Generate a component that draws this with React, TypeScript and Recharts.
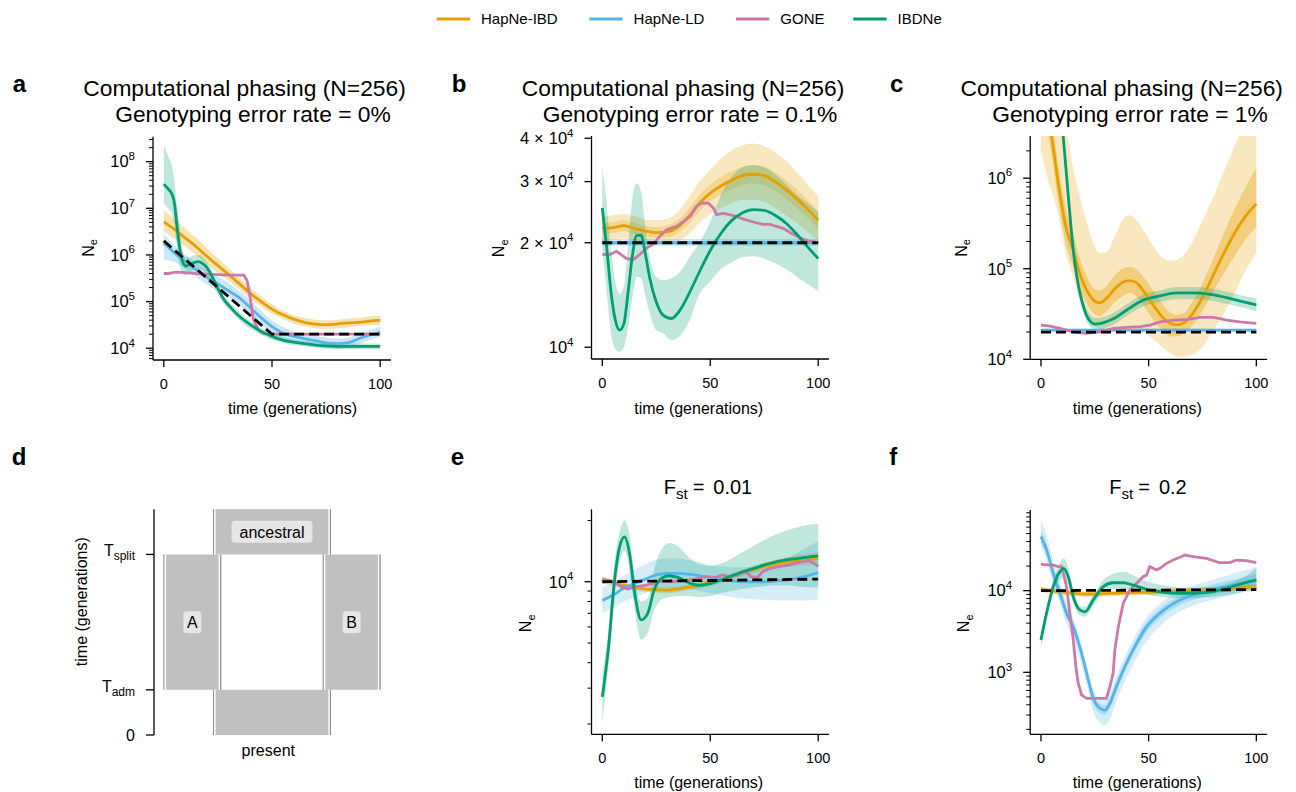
import React from 'react';
import { ComposedChart, Line, Area, XAxis, YAxis, ReferenceArea } from 'recharts';

const FONT = '"Liberation Sans", Arial, Helvetica, sans-serif';
const IBD = '#E69F00';
const LD = '#56B4E9';
const GONE = '#CC79A7';
const IBDNE = '#009E73';
const TRUE_C = '#000000';

const legendNames = ['HapNe-IBD', 'HapNe-LD', 'GONE', 'IBDNe'];
const legendColors = [IBD, LD, GONE, IBDNE];
const xTicks = [0, 50, 100];

// ---------------- panel a ----------------
const aT = [0, 5, 10, 15, 20, 25, 30, 35, 40, 45, 50, 55, 60, 65, 70, 75, 80, 85, 90, 95, 100];
const aIbd = [5.1e6, 3.5e6, 2.3e6, 1.5e6, 9.3e5, 5.9e5, 3.8e5, 2.4e5, 1.5e5, 1.0e5, 6.9e4, 5.2e4, 4.2e4, 3.6e4, 3.3e4, 3.2e4, 3.3e4, 3.5e4, 3.6e4, 3.8e4, 4.0e4];
const aIbdHi = [9.1e6, 5.9e6, 3.7e6, 2.3e6, 1.4e6, 8.5e5, 5.2e5, 3.2e5, 2.0e5, 1.3e5, 8.7e4, 6.5e4, 5.1e4, 4.5e4, 4.1e4, 4.0e4, 4.1e4, 4.3e4, 4.5e4, 4.8e4, 5.0e4];
const aIbdLo = [3.2e6, 2.2e6, 1.5e6, 9.8e5, 6.3e5, 4.1e5, 2.8e5, 1.8e5, 1.15e5, 7.8e4, 5.5e4, 4.3e4, 3.4e4, 3.0e4, 2.7e4, 2.6e4, 2.7e4, 2.8e4, 3.0e4, 3.1e4, 3.2e4];
const aLd = [1.8e6, 1.1e6, 7.1e5, 4.8e5, 3.3e5, 2.4e5, 1.7e5, 1.2e5, 7.4e4, 4.5e4, 2.9e4, 2.1e4, 1.8e4, 1.6e4, 1.45e4, 1.3e4, 1.26e4, 1.3e4, 1.6e4, 1.9e4, 2.2e4];
const aLdHi = [2.8e6, 1.6e6, 1.0e6, 6.8e5, 4.7e5, 3.4e5, 2.5e5, 1.66e5, 1.05e5, 6.3e4, 4.0e4, 2.9e4, 2.3e4, 2.0e4, 1.86e4, 1.7e4, 1.62e4, 1.7e4, 2.0e4, 2.45e4, 2.9e4];
const aLdLo = [7.9e5, 7.1e5, 5.0e5, 3.4e5, 2.3e5, 1.7e5, 1.23e5, 8.3e4, 5.2e4, 3.2e4, 2.1e4, 1.6e4, 1.35e4, 1.23e4, 1.12e4, 1.02e4, 9.8e3, 1.02e4, 1.23e4, 1.48e4, 1.74e4];
const aGoneT = [0, 2, 4, 6, 10, 15, 20, 25, 30, 35, 37, 38.5, 39.6, 41.4, 43.8, 46, 50, 60, 70, 80, 90, 100];
const aGone = [4.0e5, 4.0e5, 4.2e5, 4.3e5, 4.2e5, 4.0e5, 3.9e5, 3.8e5, 3.7e5, 3.7e5, 3.7e5, 2.8e5, 1.5e5, 4.1e4, 2.45e4, 2.05e4, 2.0e4, 2.0e4, 2.0e4, 2.0e4, 2.0e4, 2.0e4];
const aIbdneT = [0, 2, 4, 5, 6, 7, 8, 10, 12, 14, 16, 18, 20, 22, 25, 28, 30, 35, 40, 45, 50, 55, 60, 65, 70, 75, 80, 90, 100];
const aIbdne = [3.3e7, 2.6e7, 1.9e7, 1.2e7, 4.5e6, 1.8e6, 9.5e5, 5.8e5, 6.2e5, 6.9e5, 7.2e5, 6.5e5, 5.3e5, 3.7e5, 1.9e5, 1.07e5, 8.3e4, 4.8e4, 3.2e4, 2.3e4, 1.8e4, 1.5e4, 1.35e4, 1.26e4, 1.17e4, 1.12e4, 1.1e4, 1.1e4, 1.1e4];
const aIbdneHi = [2.3e8, 1.3e8, 7.1e7, 3.5e7, 1.3e7, 5.0e6, 2.0e6, 9.0e5, 9.0e5, 1.0e6, 1.0e6, 9.0e5, 7.0e5, 4.6e5, 2.3e5, 1.3e5, 1.0e5, 5.9e4, 3.8e4, 2.7e4, 2.1e4, 1.74e4, 1.55e4, 1.45e4, 1.35e4, 1.3e4, 1.26e4, 1.26e4, 1.26e4];
const aIbdneLo = [1.26e7, 1.0e7, 7.1e6, 4.0e6, 1.6e6, 7.0e5, 4.5e5, 3.6e5, 4.2e5, 4.8e5, 5.0e5, 4.6e5, 3.9e5, 2.8e5, 1.4e5, 8.7e4, 6.8e4, 4.0e4, 2.6e4, 1.95e4, 1.55e4, 1.32e4, 1.17e4, 1.1e4, 1.02e4, 9.8e3, 9.5e3, 9.5e3, 9.5e3];
const aTrueT = [0, 50, 100];
const aTrue = [2e6, 2e4, 2e4];

// ---------------- panel b ----------------
const bT = [0, 5, 10, 15, 20, 25, 30, 35, 40, 45, 50, 55, 60, 65, 70, 75, 80, 85, 90, 95, 100];
const bIbd = [2.2e4, 2.21e4, 2.24e4, 2.2e4, 2.16e4, 2.14e4, 2.15e4, 2.22e4, 2.38e4, 2.6e4, 2.78e4, 2.92e4, 3.03e4, 3.12e4, 3.15e4, 3.12e4, 3.0e4, 2.85e4, 2.68e4, 2.5e4, 2.32e4];
const bIbdHi = [2.38e4, 2.4e4, 2.42e4, 2.38e4, 2.33e4, 2.32e4, 2.35e4, 2.45e4, 2.7e4, 3.0e4, 3.25e4, 3.5e4, 3.7e4, 3.82e4, 3.86e4, 3.8e4, 3.65e4, 3.45e4, 3.2e4, 2.95e4, 2.72e4];
const bIbdLo = [2.04e4, 2.04e4, 2.06e4, 2.03e4, 2.0e4, 1.98e4, 1.98e4, 2.02e4, 2.12e4, 2.28e4, 2.42e4, 2.52e4, 2.6e4, 2.66e4, 2.66e4, 2.62e4, 2.52e4, 2.4e4, 2.28e4, 2.15e4, 2.02e4];
const bIbdHi2 = [2.28e4, 2.29e4, 2.32e4, 2.28e4, 2.24e4, 2.22e4, 2.24e4, 2.32e4, 2.5e4, 2.74e4, 2.94e4, 3.1e4, 3.22e4, 3.31e4, 3.34e4, 3.31e4, 3.19e4, 3.03e4, 2.85e4, 2.66e4, 2.46e4];
const bIbdLo2 = [2.12e4, 2.13e4, 2.16e4, 2.12e4, 2.08e4, 2.06e4, 2.07e4, 2.13e4, 2.27e4, 2.47e4, 2.63e4, 2.75e4, 2.85e4, 2.93e4, 2.96e4, 2.93e4, 2.82e4, 2.68e4, 2.52e4, 2.36e4, 2.19e4];
const bLdT = [0, 100];
const bLd = [2.0e4, 2.0e4];
const bLdHi = [2.05e4, 2.05e4];
const bLdLo = [1.96e4, 1.96e4];
const bGoneT = [0, 3.5, 6.6, 11.3, 14.4, 17.4, 20.5, 23.6, 26.7, 29.8, 34.4, 37.5, 40.6, 43.7, 46, 49.1, 51.4, 52.9, 56, 59, 62.2, 65.3, 68.4, 71.5, 74.5, 77.6, 80.7, 83.8, 86.9, 90, 93, 96.1, 100];
const bGone = [1.85e4, 1.85e4, 1.89e4, 1.8e4, 1.79e4, 1.85e4, 1.93e4, 1.98e4, 2.09e4, 2.18e4, 2.23e4, 2.3e4, 2.38e4, 2.55e4, 2.6e4, 2.6e4, 2.52e4, 2.41e4, 2.43e4, 2.41e4, 2.38e4, 2.34e4, 2.31e4, 2.28e4, 2.26e4, 2.26e4, 2.23e4, 2.2e4, 2.14e4, 2.09e4, 2.05e4, 2.02e4, 2.0e4];
const bIbdneT = [0, 2, 4, 6, 8, 10, 12, 14, 16, 18, 20, 22, 25, 28, 32, 36, 40, 45, 50, 55, 60, 65, 70, 75, 80, 85, 90, 95, 100];
const bIbdne = [2.52e4, 1.95e4, 1.45e4, 1.2e4, 1.12e4, 1.17e4, 1.45e4, 1.85e4, 2.1e4, 2.1e4, 1.85e4, 1.58e4, 1.35e4, 1.24e4, 1.21e4, 1.28e4, 1.42e4, 1.65e4, 1.9e4, 2.13e4, 2.32e4, 2.44e4, 2.49e4, 2.48e4, 2.4e4, 2.28e4, 2.12e4, 1.95e4, 1.8e4];
const bIbdneHi = [3.3e4, 2.6e4, 1.9e4, 1.55e4, 1.42e4, 1.5e4, 2.0e4, 2.7e4, 2.97e4, 2.8e4, 2.2e4, 1.8e4, 1.6e4, 1.56e4, 1.58e4, 1.65e4, 1.8e4, 2.0e4, 2.3e4, 2.75e4, 3.1e4, 3.3e4, 3.35e4, 3.3e4, 3.15e4, 2.95e4, 2.75e4, 2.6e4, 2.45e4];
const bIbdneLo = [1.95e4, 1.45e4, 1.1e4, 9.9e3, 9.7e3, 1.0e4, 1.15e4, 1.4e4, 1.6e4, 1.58e4, 1.4e4, 1.25e4, 1.12e4, 1.1e4, 1.05e4, 1.08e4, 1.18e4, 1.42e4, 1.55e4, 1.68e4, 1.76e4, 1.82e4, 1.83e4, 1.8e4, 1.75e4, 1.68e4, 1.6e4, 1.52e4, 1.45e4];
const bTrueT = [0, 100];
const bTrue = [2e4, 2e4];

// ---------------- panel c ----------------
const cIbdT = [0, 3, 5, 8, 11.5, 15, 18, 21, 24, 27, 30, 34, 38, 41, 44, 48, 52, 56, 60, 63, 66, 70, 75, 80, 85, 90, 95, 100];
const cIbd = [1.0e7, 5.0e6, 2.8e6, 8.9e5, 2.95e5, 1.6e5, 8.9e4, 5.9e4, 4.6e4, 4.2e4, 4.6e4, 5.9e4, 7.1e4, 7.4e4, 7.1e4, 5.5e4, 4.0e4, 3.0e4, 2.5e4, 2.4e4, 2.5e4, 3.1e4, 4.8e4, 8.5e4, 1.5e5, 2.5e5, 3.8e5, 5.2e5];
const cIbdHi2 = [1.6e7, 7.9e6, 4.5e6, 1.4e6, 4.7e5, 2.4e5, 1.3e5, 8.5e4, 6.3e4, 5.8e4, 6.3e4, 8.3e4, 1.0e5, 1.05e5, 1.0e5, 7.9e4, 5.8e4, 4.2e4, 3.3e4, 3.1e4, 3.2e4, 4.2e4, 6.9e4, 1.3e5, 2.5e5, 4.6e5, 7.9e5, 1.3e6];
const cIbdLo2 = [6.3e6, 3.2e6, 1.8e6, 5.6e5, 1.9e5, 1.05e5, 6.0e4, 4.2e4, 3.3e4, 3.0e4, 3.3e4, 4.2e4, 5.0e4, 5.4e4, 5.0e4, 3.8e4, 2.75e4, 2.1e4, 1.8e4, 1.78e4, 1.9e4, 2.3e4, 3.4e4, 5.6e4, 8.9e4, 1.4e5, 2.1e5, 2.9e5];
const cIbdHi = [1e8, 5e7, 2.5e7, 1e7, 4e6, 1.26e6, 6.3e5, 3.4e5, 2.0e5, 1.5e5, 1.5e5, 2.2e5, 3.5e5, 3.9e5, 3.5e5, 2.6e5, 1.8e5, 1.35e5, 1.23e5, 1.26e5, 1.4e5, 1.9e5, 3.4e5, 6.2e5, 1.2e6, 2.3e6, 4.5e6, 7.9e6];
const cIbdLo = [2.0e6, 1.0e6, 7.1e5, 4.0e5, 1.5e5, 8.0e4, 4.5e4, 3.0e4, 2.4e4, 2.2e4, 2.1e4, 2.1e4, 2.1e4, 2.1e4, 2.0e4, 1.95e4, 1.66e4, 1.38e4, 1.17e4, 1.07e4, 1.07e4, 1.12e4, 1.38e4, 2.1e4, 3.2e4, 5.4e4, 9.5e4, 1.5e5];
const cLdT = [0, 100];
const cLd = [2.1e4, 2.1e4];
const cLdHi = [2.18e4, 2.18e4];
const cLdLo = [2.02e4, 2.02e4];
const cGoneT = [0, 4.2, 8.8, 15, 21.2, 27.4, 33.6, 39.8, 46, 50.6, 55.3, 61.5, 67.7, 73.8, 80, 83.1, 86.2, 92.4, 100];
const cGone = [2.38e4, 2.32e4, 2.19e4, 2.01e4, 1.93e4, 2.01e4, 2.19e4, 2.25e4, 2.29e4, 2.38e4, 2.59e4, 2.7e4, 2.75e4, 2.9e4, 2.9e4, 2.82e4, 2.7e4, 2.59e4, 2.49e4];
const cIbdneT = [0, 5, 8, 10.3, 12.5, 14, 15.5, 17.5, 19.5, 22, 25, 28, 33.6, 39.8, 47.5, 55.3, 63, 70.7, 78.5, 86.2, 94, 100];
const cIbdne = [2e8, 4e7, 1e7, 2.95e6, 7.1e5, 2.8e5, 1.26e5, 6.3e4, 4.0e4, 2.8e4, 2.45e4, 2.5e4, 2.8e4, 3.5e4, 4.5e4, 5.0e4, 5.4e4, 5.4e4, 5.2e4, 4.8e4, 4.3e4, 4.0e4];
const cIbdneHi = [2.3e8, 4.7e7, 1.17e7, 3.45e6, 8.3e5, 3.3e5, 1.47e5, 7.4e4, 4.7e4, 3.3e4, 2.85e4, 2.9e4, 3.25e4, 4.05e4, 5.2e4, 5.8e4, 6.3e4, 6.3e4, 6.1e4, 5.6e4, 5.0e4, 4.7e4];
const cIbdneLo = [1.7e8, 3.4e7, 8.5e6, 2.5e6, 6.1e5, 2.4e5, 1.08e5, 5.4e4, 3.4e4, 2.4e4, 2.1e4, 2.15e4, 2.4e4, 3.0e4, 3.85e4, 4.3e4, 4.6e4, 4.6e4, 4.45e4, 4.1e4, 3.7e4, 3.4e4];
const cTrueT = [0, 100];
const cTrue = [2e4, 2e4];

// ---------------- panel d (model diagram, time units: T_adm = 1, T_split = 4) ----------------
const dYTicks = [0, 1, 4];
const dYNames = ['0', 'adm', 'split'];
const dDemes = [
  { name: 'ancestral', x1: 25, x2: 75, y1: 4, y2: 5 },
  { name: 'A', x1: 4, x2: 28.5, y1: 1, y2: 4 },
  { name: 'B', x1: 71.5, x2: 96, y1: 1, y2: 4 },
  { name: '', x1: 25, x2: 75, y1: 0, y2: 1 },
];

// ---------------- panel e ----------------
const eIbdT = [0, 10, 20, 30, 40, 50, 60, 70, 80, 90, 100];
const eIbd = [1.02e4, 9.6e3, 9.2e3, 9.1e3, 9.4e3, 9.9e3, 1.06e4, 1.15e4, 1.22e4, 1.27e4, 1.3e4];
const eIbdHi = [1.06e4, 9.9e3, 9.5e3, 9.4e3, 9.7e3, 1.03e4, 1.1e4, 1.2e4, 1.28e4, 1.35e4, 1.4e4];
const eIbdLo = [9.8e3, 9.3e3, 8.9e3, 8.8e3, 9.1e3, 9.5e3, 1.02e4, 1.1e4, 1.16e4, 1.2e4, 1.22e4];
const eLdT = [0, 5, 10, 15, 20, 25, 30, 35, 40, 45, 50, 55, 60, 65, 70, 75, 80, 85, 90, 95, 100];
const eLd = [8.1e3, 8.6e3, 9.3e3, 9.8e3, 1.03e4, 1.08e4, 1.1e4, 1.1e4, 1.09e4, 1.07e4, 1.05e4, 1.03e4, 1.01e4, 1.0e4, 1.0e4, 1.0e4, 1.01e4, 1.02e4, 1.04e4, 1.07e4, 1.11e4];
const eLdHi = [9.4e3, 9.9e3, 1.07e4, 1.15e4, 1.22e4, 1.28e4, 1.3e4, 1.3e4, 1.28e4, 1.25e4, 1.2e4, 1.19e4, 1.18e4, 1.18e4, 1.19e4, 1.2e4, 1.24e4, 1.3e4, 1.38e4, 1.48e4, 1.58e4];
const eLdLo = [7.0e3, 7.5e3, 8.0e3, 8.4e3, 8.8e3, 9.2e3, 9.3e3, 9.3e3, 9.2e3, 9.0e3, 8.8e3, 8.6e3, 8.4e3, 8.3e3, 8.2e3, 8.15e3, 8.1e3, 8.1e3, 8.1e3, 8.1e3, 8.2e3];
const eGoneT = [0, 5.6, 8.7, 11.9, 15, 19.7, 24.3, 27.5, 32, 36.8, 43, 47.7, 52.4, 55.5, 58.7, 63, 66.5, 68.8, 71.9, 74.3, 77.4, 82, 86.7, 91.4, 96, 100];
const eGone = [1.03e4, 1.0e4, 9.45e3, 9.2e3, 9.45e3, 9.6e3, 9.85e3, 1.01e4, 1.0e4, 1.01e4, 1.03e4, 1.06e4, 1.05e4, 1.08e4, 1.06e4, 1.08e4, 1.12e4, 1.06e4, 1.05e4, 1.12e4, 1.16e4, 1.19e4, 1.21e4, 1.25e4, 1.27e4, 1.19e4];
const eIbdneT = [0, 3, 5.5, 8, 10.3, 12.6, 15, 18, 21, 24, 27.5, 31, 35, 40, 45, 50, 55, 60, 65, 70, 75, 80, 85, 90, 95, 100];
const eIbdne = [2.72e3, 4.9e3, 9.8e3, 1.48e4, 1.66e4, 1.38e4, 8.8e3, 6.5e3, 6.98e3, 9.1e3, 1.04e4, 1.07e4, 1.05e4, 9.9e3, 9.6e3, 9.8e3, 1.02e4, 1.07e4, 1.12e4, 1.16e4, 1.21e4, 1.25e4, 1.28e4, 1.3e4, 1.32e4, 1.34e4];
const eIbdneHi = [3.5e3, 6.0e3, 1.2e4, 1.75e4, 2.0e4, 1.7e4, 1.05e4, 8.0e3, 8.3e3, 1.15e4, 1.45e4, 1.55e4, 1.5e4, 1.32e4, 1.22e4, 1.2e4, 1.23e4, 1.3e4, 1.4e4, 1.5e4, 1.6e4, 1.7e4, 1.78e4, 1.85e4, 1.9e4, 1.92e4];
const eIbdneLo = [2.0e3, 4.0e3, 8.0e3, 1.25e4, 1.42e4, 1.15e4, 7.3e3, 5.2e3, 5.6e3, 7.2e3, 8.2e3, 8.4e3, 8.5e3, 8.5e3, 8.4e3, 8.5e3, 8.8e3, 9.0e3, 9.2e3, 9.4e3, 9.5e3, 9.6e3, 9.6e3, 9.5e3, 9.4e3, 9.4e3];
const eTrueT = [0, 100];
const eTrue = [1.0e4, 1.03e4];

// ---------------- panel f ----------------
const fIbdT = [0, 10, 20, 30, 40, 50, 60, 70, 80, 90, 100];
const fIbd = [1.04e4, 9.6e3, 9.1e3, 9.2e3, 9.4e3, 9.6e3, 9.8e3, 1.0e4, 1.03e4, 1.07e4, 1.12e4];
const fIbdHi = [1.12e4, 1.04e4, 9.8e3, 9.9e3, 1.01e4, 1.04e4, 1.06e4, 1.08e4, 1.11e4, 1.16e4, 1.21e4];
const fIbdLo = [9.6e3, 8.9e3, 8.4e3, 8.5e3, 8.7e3, 8.9e3, 9.1e3, 9.3e3, 9.5e3, 9.9e3, 1.04e4];
const fLdT = [0, 2.6, 5.7, 8.8, 11.9, 15, 18, 21.2, 24.3, 27.4, 29.7, 32, 35, 39.7, 44.4, 49, 55.2, 63, 70.6, 78.4, 86, 93.8, 100];
const fLd = [4.6e4, 3.2e4, 1.63e4, 9.3e3, 5.3e3, 3.6e3, 2.06e3, 980, 480, 362, 345, 418, 665, 1.29e3, 2.26e3, 3.6e3, 5.3e3, 7.3e3, 8.85e3, 1.0e4, 1.12e4, 1.25e4, 1.35e4];
const fLdHi = [7.3e4, 4.8e4, 2.3e4, 1.25e4, 7.0e3, 4.6e3, 2.6e3, 1.25e3, 620, 470, 460, 560, 900, 1.7e3, 3.0e3, 4.7e3, 6.9e3, 9.5e3, 1.15e4, 1.32e4, 1.52e4, 1.75e4, 1.97e4];
const fLdLo = [3.6e4, 2.3e4, 1.2e4, 6.9e3, 3.9e3, 2.6e3, 1.5e3, 700, 330, 240, 226, 270, 440, 850, 1.5e3, 2.4e3, 3.7e3, 5.3e3, 6.6e3, 7.6e3, 8.5e3, 9.5e3, 1.02e4];
const fLdHi2 = [5.4e4, 3.7e4, 1.9e4, 1.08e4, 6.1e3, 4.1e3, 2.3e3, 1.1e3, 550, 410, 395, 480, 770, 1.48e3, 2.6e3, 4.1e3, 6.0e3, 8.3e3, 1.0e4, 1.15e4, 1.3e4, 1.45e4, 1.6e4];
const fLdLo2 = [3.9e4, 2.75e4, 1.4e4, 8.0e3, 4.6e3, 3.15e3, 1.8e3, 860, 415, 315, 300, 360, 570, 1.12e3, 1.95e3, 3.1e3, 4.6e3, 6.4e3, 7.7e3, 8.7e3, 9.6e3, 1.08e4, 1.15e4];
const fGoneT = [0, 5.7, 8, 9.6, 11.9, 13.4, 15, 16.2, 17.3, 18.9, 21.2, 24.3, 30.4, 32, 33.5, 34.3, 35.9, 38.2, 41.3, 44.4, 47.4, 49, 50.5, 52.1, 53.6, 55.2, 58.3, 61.4, 64.5, 66.8, 70.6, 76.8, 83, 87.6, 90.7, 95.4, 100];
const fGone = [2.1e4, 2.06e4, 1.97e4, 1.97e4, 1.12e4, 5.3e3, 2.5e3, 1.17e3, 735, 525, 480, 480, 480, 665, 970, 1.87e3, 3.6e3, 7.0e3, 1.02e4, 1.23e4, 1.48e4, 1.55e4, 1.97e4, 1.88e4, 1.79e4, 1.88e4, 2.16e4, 2.37e4, 2.56e4, 2.73e4, 2.61e4, 2.49e4, 2.2e4, 2.2e4, 2.37e4, 2.33e4, 2.2e4];
const fIbdneT = [0, 2.6, 5.7, 8.8, 10.4, 12.7, 15, 18, 20.4, 24.3, 28.9, 33.5, 38.2, 42.8, 49, 55.2, 63, 70.6, 78.4, 86, 93.8, 100];
const fIbdne = [2.49e3, 5.3e3, 1.12e4, 1.71e4, 1.88e4, 1.48e4, 8.4e3, 5.8e3, 5.5e3, 7.7e3, 1.12e4, 1.25e4, 1.25e4, 1.17e4, 1.04e4, 9.7e3, 9.3e3, 9.3e3, 9.6e3, 1.07e4, 1.23e4, 1.35e4];
const fIbdneHi = [3.0e3, 6.2e3, 1.35e4, 2.2e4, 2.5e4, 1.9e4, 1.0e4, 6.6e3, 6.3e3, 9.0e3, 1.35e4, 1.6e4, 1.7e4, 1.55e4, 1.3e4, 1.18e4, 1.1e4, 1.08e4, 1.1e4, 1.2e4, 1.45e4, 1.9e4];
const fIbdneLo = [2.0e3, 4.5e3, 9.5e3, 1.35e4, 1.45e4, 1.15e4, 7.0e3, 5.0e3, 4.8e3, 6.6e3, 9.5e3, 1.05e4, 1.05e4, 1.0e4, 9.0e3, 8.4e3, 8.1e3, 8.1e3, 8.3e3, 8.8e3, 9.8e3, 1.05e4];
const fTrueT = [0, 100];
const fTrue = [1.0e4, 1.03e4];

// ---------------- axis ticks ----------------
const minorTicks = (e0: number, e1: number, lo: number, hi: number) => {
  const out: number[] = [];
  for (let e = e0; e <= e1; e++) for (let k = 2; k <= 9; k++) { const v = k * Math.pow(10, e); if (v >= lo && v <= hi) out.push(v); }
  return out;
};
const aMajors = [1e4, 1e5, 1e6, 1e7, 1e8];
const bMajors = [1e4, 2e4, 3e4, 4e4];
const cMajors = [1e4, 1e5, 1e6];
const eMajors = [1e4];
const fMajors = [1e3, 1e4];
const aDomain: [number, number] = [5.6e3, 3.43e8];
const bDomain: [number, number] = [9.25e3, 4.06e4];
const cDomain: [number, number] = [1e4, 2.92e6];
const eDomain: [number, number] = [1780, 2.27e4];
const fDomain: [number, number] = [174, 9.73e4];

type Lab = { pre?: string; exp: string } | null;
const sciLabel = (majors: number[]) => (v: number): Lab => {
  const m = majors.find((x) => Math.abs(v / x - 1) < 1e-6);
  if (m === undefined) return null;
  const e = Math.floor(Math.log10(m) + 1e-9);
  const mant = Math.round(m / Math.pow(10, e));
  return { pre: mant === 1 ? undefined : String(mant), exp: String(e) };
};

type BandDef = { t: number[]; lo: number[]; hi: number[]; color: string; op: number };
type LineDef = { t: number[]; v: number[]; color: string; dash?: boolean; linear?: boolean };

const TXT = { fontFamily: FONT, fill: '#000' } as const;

const AxisText = (p: any) => {
  const { px, py, txt, rot, sub, size } = p;
  return (
    <text x={px} y={py} transform={rot ? `rotate(-90 ${px} ${py})` : undefined} textAnchor="middle" dominantBaseline="central" fontSize={size || 16} {...TXT}>
      {txt}
      {sub ? <tspan fontSize={11} dy={5}>{sub}</tspan> : null}
    </text>
  );
};

function Panel(props: {
  box: [number, number, number, number];
  plot: [number, number, number, number];
  domain: [number, number];
  ticks: number[];
  fmt: (v: number) => Lab;
  bands: BandDef[];
  lines: LineDef[];
  xLab: [number, number];
  yLab: [number, number];
}) {
  const [L, T, W, H] = props.box;
  const [x0, y0, x1, y1] = props.plot;
  const axX = x0 - L;
  const axY = y1 - T;
  const fmt = props.fmt;
  const xTick = (p: any) => (
    <g key={`xt${p.payload.value}`}>
      <line x1={p.x} x2={p.x} y1={axY} y2={axY + 7} stroke="#000" strokeWidth={1.3} />
      <text x={p.x} y={axY + 28.5} textAnchor="middle" fontSize={14.5} {...TXT}>{p.payload.value}</text>
    </g>
  );
  const yTick = (p: any) => {
    const f = fmt(p.payload.value);
    return (
      <g key={`yt${p.payload.value}`}>
        <line x1={axX - (f ? 7 : 4)} x2={axX} y1={p.y} y2={p.y} stroke="#000" strokeWidth={f ? 1.3 : 1} />
        {f ? (
          <text x={axX - 18} y={p.y + 5.8} textAnchor="end" fontSize={16.5} {...TXT}>
            {f.pre ? <tspan>{f.pre}</tspan> : null}
            {f.pre ? <tspan dx={5}>{'\u00d7'}</tspan> : null}
            <tspan dx={f.pre ? 5 : 0}>10</tspan>
            <tspan dy={-7.5} fontSize={11.5}>{f.exp}</tspan>
          </text>
        ) : null}
      </g>
    );
  };
  return (
    <div style={{ position: 'absolute', left: L, top: T }}>
      <ComposedChart width={W} height={H} margin={{ top: y0 - T, right: L + W - x1, left: 0, bottom: 0 }}>
        <XAxis
          type="number"
          dataKey="t"
          domain={[-5, 105]}
          allowDataOverflow
          ticks={xTicks}
          interval={0}
          tickLine={false}
          tickSize={0}
          tickMargin={0}
          height={T + H - y1}
          axisLine={{ stroke: '#000', strokeWidth: 1.3 }}
          tick={xTick}
          label={<AxisText px={props.xLab[0] - L} py={props.xLab[1] - T} txt="time (generations)" />}
        />
        <YAxis
          type="number"
          scale="log"
          domain={props.domain}
          allowDataOverflow
          ticks={props.ticks}
          interval={0}
          width={x0 - L}
          tickLine={false}
          tickSize={0}
          tickMargin={0}
          axisLine={{ stroke: '#000', strokeWidth: 1.3 }}
          tick={yTick}
          label={<AxisText px={props.yLab[0] - L} py={props.yLab[1] - T} txt="N" sub="e" rot />}
        />
        {props.bands.map((b, i) => (
          <Area
            key={`band${i}`}
            data={b.t.map((t, j) => ({ t, band: [b.lo[j], b.hi[j]] }))}
            dataKey="band"
            type="monotone"
            stroke="none"
            fill={b.color}
            fillOpacity={b.op}
            dot={false}
            activeDot={false}
            isAnimationActive={false}
          />
        ))}
        {props.lines.map((l, i) => (
          <Line
            key={`line${i}`}
            data={l.t.map((t, j) => ({ t, v: l.v[j] }))}
            dataKey="v"
            type={l.linear ? 'linear' : 'monotone'}
            stroke={l.color}
            strokeWidth={l.dash ? 2.8 : 2.8}
            strokeDasharray={l.dash ? '10 5' : undefined}
            dot={false}
            activeDot={false}
            isAnimationActive={false}
          />
        ))}
      </ComposedChart>
    </div>
  );
}

const BoxLabel = (p: any) => {
  const vb = p.viewBox || {};
  if (!p.txt) return null;
  const cx = vb.x + vb.width / 2;
  const cy = vb.y + vb.height / 2;
  const w = p.txt.length > 1 ? 81 : 18;
  return (
    <g>
      <rect x={cx - w / 2} y={cy - 11} width={w} height={22} rx={3.5} fill="#E6E6E6" />
      <text x={cx} y={cy + 5.8} textAnchor="middle" fontSize={16} {...TXT}>{p.txt}</text>
    </g>
  );
};

function DiagramPanel() {
  const L = 60, T = 495, W = 345, H = 270;
  const x0 = 154, y0 = 509.3, x1 = 390, y1 = 735;
  const axX = x0 - L;
  const px = 100 / (x1 - x0); // data units per pixel
  const yTick = (p: any) => {
    const idx = dYTicks.indexOf(p.payload.value);
    const name = dYNames[idx];
    return (
      <g key={`dt${p.payload.value}`}>
        <line x1={axX - 8} x2={axX} y1={p.y} y2={p.y} stroke="#000" strokeWidth={1.3} />
        {idx === 0 ? (
          <text x={axX - 19} y={p.y + 5.7} textAnchor="end" fontSize={16} {...TXT}>0</text>
        ) : (
          <text x={axX - 19} y={p.y + 2} textAnchor="end" fontSize={16} {...TXT}>
            T<tspan fontSize={12} dy={4}>{name}</tspan>
          </text>
        )}
      </g>
    );
  };
  const stripes: any[] = [];
  dDemes.forEach((d, i) => {
    stripes.push({ k: `d${i}a`, x1: d.x1, x2: d.x1 + 1.1 * px, y1: d.y1, y2: d.y2, fill: '#8E8E8E' });
    stripes.push({ k: `d${i}b`, x1: d.x1 + 1.1 * px, x2: d.x1 + 2.6 * px, y1: d.y1, y2: d.y2, fill: '#FFFFFF' });
    stripes.push({ k: `d${i}c`, x1: d.x2 - 2.6 * px, x2: d.x2 - 1.1 * px, y1: d.y1, y2: d.y2, fill: '#FFFFFF' });
    stripes.push({ k: `d${i}d`, x1: d.x2 - 1.1 * px, x2: d.x2, y1: d.y1, y2: d.y2, fill: '#8E8E8E' });
  });
  return (
    <div style={{ position: 'absolute', left: L, top: T }}>
      <ComposedChart width={W} height={H} margin={{ top: y0 - T, right: L + W - x1, left: 0, bottom: 0 }}>
        <XAxis
          type="number"
          dataKey="x"
          domain={[0, 100]}
          allowDataOverflow
          axisLine={false}
          tickLine={false}
          tick={false}
          height={T + H - y1}
          label={<AxisText px={268.3 - L} py={750 - T} txt="present" />}
        />
        <YAxis
          type="number"
          domain={[0, 5]}
          allowDataOverflow
          ticks={dYTicks}
          interval={0}
          width={x0 - L}
          tickLine={false}
          tickSize={0}
          tickMargin={0}
          axisLine={{ stroke: '#000', strokeWidth: 1.3 }}
          tick={yTick}
          label={<AxisText px={81.7 - L} py={601.7 - T} txt="time (generations)" rot />}
        />
        <Line data={[{ x: 0, y: 0 }, { x: 100, y: 5 }]} dataKey="y" stroke="none" dot={false} activeDot={false} isAnimationActive={false} />
        {dDemes.map((d, i) => (
          <ReferenceArea key={`deme${i}`} x1={d.x1} x2={d.x2} y1={d.y1} y2={d.y2} fill="#C0C0C0" fillOpacity={1} stroke="none" ifOverflow="visible" />
        ))}
        {stripes.map((s) => (
          <ReferenceArea key={s.k} x1={s.x1} x2={s.x2} y1={s.y1} y2={s.y2} fill={s.fill} fillOpacity={1} stroke="none" ifOverflow="visible" />
        ))}
        {dDemes.filter((d) => d.name).map((d, i) => (
          <ReferenceArea key={`lab${i}`} x1={d.x1} x2={d.x2} y1={d.y1} y2={d.y2} fill="none" fillOpacity={0} stroke="none" ifOverflow="visible" label={<BoxLabel txt={d.name} />} />
        ))}
      </ComposedChart>
    </div>
  );
}

const Overlay = () => {
  const legX = [436.7, 589.3, 736, 853.3];
  const letters: [string, number, number][] = [
    ['a', 12.7, 91.7], ['b', 451.7, 91.7], ['c', 890, 91.7],
    ['d', 11.7, 465], ['e', 450.7, 465], ['f', 889.3, 465],
  ];
  const titles: [number, number, string][] = [
    [244.5, 253, '0%'], [683, 690, '0.1%'], [1121.7, 1130, '1%'],
  ];
  return (
    <svg width={1296} height={792} style={{ position: 'absolute', left: 0, top: 0 }}>
      {legendNames.map((n, i) => (
        <g key={n}>
          <line x1={legX[i]} x2={legX[i] + 33.3} y1={19} y2={19} stroke={legendColors[i]} strokeWidth={3} />
          <text x={legX[i] + 44.3} y={24.3} fontSize={15} {...TXT}>{n}</text>
        </g>
      ))}
      {letters.map(([l, x, y]) => (
        <text key={l} x={x} y={y} fontSize={24} fontWeight="bold" {...TXT}>{l}</text>
      ))}
      {titles.map(([c1, c2, r]) => (
        <g key={r}>
          <text x={c1} y={96} textAnchor="middle" fontSize={22.8} {...TXT}>Computational phasing (N=256)</text>
          <text x={c2} y={122} textAnchor="middle" fontSize={22.8} {...TXT}>{`Genotyping error rate = ${r}`}</text>
        </g>
      ))}
      {[[708, '0.01'], [1148, '0.2']].map(([cx, v]) => (
        <text key={String(v)} x={cx as number} y={494} textAnchor="middle" fontSize={20} {...TXT}>
          F<tspan fontSize={15} dy={5}>st</tspan>
          <tspan dy={-5} dx={5}>=</tspan>
          <tspan dx={9}>{v}</tspan>
        </text>
      ))}
    </svg>
  );
};

export default function App() {
  const mk = (t: number[], lo: number[], hi: number[], color: string, op: number): BandDef => ({ t, lo, hi, color, op });
  return (
    <div style={{ position: 'absolute', left: 0, top: 0, width: 1296, height: 792, background: '#fff', fontFamily: FONT }}>
      <Overlay />
      <Panel
        box={[60, 128, 345, 295]}
        plot={[153, 136.7, 391, 360]}
        domain={aDomain}
        ticks={[...aMajors, ...minorTicks(3, 8, aDomain[0], aDomain[1])]}
        fmt={sciLabel(aMajors)}
        bands={[
          mk(aT, aIbdLo, aIbdHi, IBD, 0.3),
          mk(aT, aLdLo, aLdHi, LD, 0.3),
          mk(aIbdneT, aIbdneLo, aIbdneHi, IBDNE, 0.25),
        ]}
        lines={[
          { t: aT, v: aIbd, color: IBD },
          { t: aT, v: aLd, color: LD },
          { t: aGoneT, v: aGone, color: GONE, linear: true },
          { t: aIbdneT, v: aIbdne, color: IBDNE },
          { t: aTrueT, v: aTrue, color: TRUE_C, dash: true, linear: true },
        ]}
        xLab={[292.5, 408.3]}
        yLab={[88, 248]}
      />
      <Panel
        box={[480, 128, 360, 295]}
        plot={[591.5, 136, 829, 359]}
        domain={bDomain}
        ticks={bMajors}
        fmt={sciLabel(bMajors)}
        bands={[
          mk(bT, bIbdLo, bIbdHi, IBD, 0.25),
          mk(bT, bIbdLo2, bIbdHi2, IBD, 0.25),
          mk(bLdT, bLdLo, bLdHi, LD, 0.3),
          mk(bIbdneT, bIbdneLo, bIbdneHi, IBDNE, 0.25),
        ]}
        lines={[
          { t: bT, v: bIbd, color: IBD },
          { t: bLdT, v: bLd, color: LD, linear: true },
          { t: bGoneT, v: bGone, color: GONE, linear: true },
          { t: bIbdneT, v: bIbdne, color: IBDNE },
          { t: bTrueT, v: bTrue, color: TRUE_C, dash: true, linear: true },
        ]}
        xLab={[698.7, 408.3]}
        yLab={[499, 248.3]}
      />
      <Panel
        box={[940, 128, 345, 295]}
        plot={[1030.2, 136, 1267.1, 359.3]}
        domain={cDomain}
        ticks={[...cMajors, ...minorTicks(4, 6, cDomain[0], cDomain[1])]}
        fmt={sciLabel(cMajors)}
        bands={[
          mk(cIbdT, cIbdLo, cIbdHi, IBD, 0.25),
          mk(cIbdT, cIbdLo2, cIbdHi2, IBD, 0.35),
          mk(cLdT, cLdLo, cLdHi, LD, 0.3),
          mk(cIbdneT, cIbdneLo, cIbdneHi, IBDNE, 0.25),
        ]}
        lines={[
          { t: cIbdT, v: cIbd, color: IBD },
          { t: cLdT, v: cLd, color: LD, linear: true },
          { t: cGoneT, v: cGone, color: GONE, linear: true },
          { t: cIbdneT, v: cIbdne, color: IBDNE },
          { t: cTrueT, v: cTrue, color: TRUE_C, dash: true, linear: true },
        ]}
        xLab={[1137.3, 408.3]}
        yLab={[961, 248]}
      />
      <DiagramPanel />
      <Panel
        box={[480, 495, 360, 297]}
        plot={[591.5, 509.3, 829, 734.3]}
        domain={eDomain}
        ticks={[...eMajors, ...minorTicks(3, 4, eDomain[0], eDomain[1])]}
        fmt={sciLabel(eMajors)}
        bands={[
          mk(eIbdT, eIbdLo, eIbdHi, IBD, 0.3),
          mk(eLdT, eLdLo, eLdHi, LD, 0.25),
          mk(eIbdneT, eIbdneLo, eIbdneHi, IBDNE, 0.25),
        ]}
        lines={[
          { t: eIbdT, v: eIbd, color: IBD },
          { t: eLdT, v: eLd, color: LD },
          { t: eGoneT, v: eGone, color: GONE, linear: true },
          { t: eIbdneT, v: eIbdne, color: IBDNE },
          { t: eTrueT, v: eTrue, color: TRUE_C, dash: true, linear: true },
        ]}
        xLab={[698.7, 782.7]}
        yLab={[526, 623.3]}
      />
      <Panel
        box={[940, 495, 345, 297]}
        plot={[1030.2, 510, 1267.1, 734.3]}
        domain={fDomain}
        ticks={[...fMajors, ...minorTicks(2, 4, fDomain[0], fDomain[1])]}
        fmt={sciLabel(fMajors)}
        bands={[
          mk(fIbdT, fIbdLo, fIbdHi, IBD, 0.35),
          mk(fLdT, fLdLo, fLdHi, LD, 0.25),
          mk(fLdT, fLdLo2, fLdHi2, LD, 0.3),
          mk(fIbdneT, fIbdneLo, fIbdneHi, IBDNE, 0.25),
        ]}
        lines={[
          { t: fIbdT, v: fIbd, color: IBD },
          { t: fLdT, v: fLd, color: LD },
          { t: fGoneT, v: fGone, color: GONE, linear: true },
          { t: fIbdneT, v: fIbdne, color: IBDNE },
          { t: fTrueT, v: fTrue, color: TRUE_C, dash: true, linear: true },
        ]}
        xLab={[1137.3, 782.7]}
        yLab={[964, 623.3]}
      />
    </div>
  );
}
